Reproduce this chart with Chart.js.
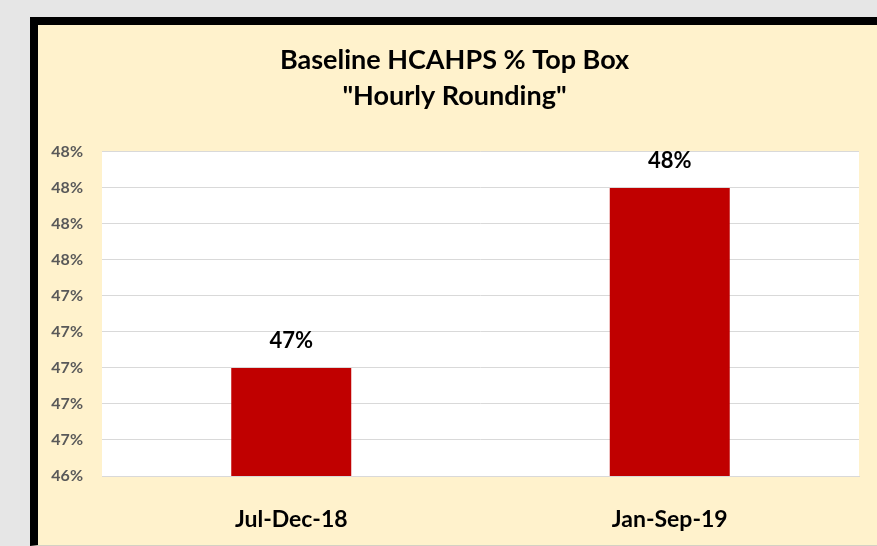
<!DOCTYPE html>
<html>
<head>
<meta charset="utf-8">
<title>Baseline HCAHPS % Top Box</title>
<script src="https://cdn.jsdelivr.net/npm/chart.js@4.4.1/dist/chart.umd.min.js"></script>
<style>
  html, body { margin: 0; padding: 0; background: #e6e6e6; overflow: hidden; }
  #frame {
    position: absolute; left: 30px; top: 17px;
    width: 839px; height: 520px;
    border-left: 8px solid #000; border-top: 8px solid #000;
    border-bottom: 1px solid #d4d0c4;
    background: #fff2cc;
  }
  #frame canvas { display: block; }
</style>
</head>
<body>
<div id="frame"><canvas id="roundingChart" width="839" height="520"></canvas></div>
<script>
// Zeitraeume und % Top Box Werte
const categories = ['Jul-Dec-18', 'Jan-Sep-19'];
const topBoxPct = [47.0, 48.0];
// Achsenteilung der y-Achse (Beschriftung wird auf ganze Prozent gerundet)
const yTickValues = [46.4, 46.6, 46.8, 47.0, 47.2, 47.4, 47.6, 47.8, 48.0, 48.2];
const titleLines = ['Baseline HCAHPS % Top Box', '"Hourly Rounding"'];

const FONT = "Lato, 'Open Sans', sans-serif";
const fmtPct = v => Math.round(v) + '%';

// weisser Hintergrund nur im Plotbereich
const plotBackground = {
    id: 'plotBackground',
    beforeDraw(chart) {
        const a = chart.chartArea;
        const ctx = chart.ctx;
        ctx.save();
        ctx.fillStyle = '#ffffff';
        ctx.fillRect(a.left, a.top, a.right - a.left, a.bottom - a.top);
        ctx.restore();
    }
};

// Wertebeschriftung ueber den Balken
const barValues = {
    id: 'barValues',
    afterDatasetsDraw(chart) {
        const ctx = chart.ctx;
        const meta = chart.getDatasetMeta(0);
        ctx.save();
        ctx.font = "bold 22px " + FONT;
        ctx.fillStyle = '#000000';
        ctx.textAlign = 'center';
        ctx.textBaseline = 'middle';
        meta.data.forEach((bar, i) => {
            ctx.fillText(fmtPct(chart.data.datasets[0].data[i]), bar.x, bar.y - 27);
        });
        ctx.restore();
    }
};

const ctx = document.getElementById('roundingChart');
const roundingChart = new Chart(ctx, {
    type: 'bar',
    data: {
        labels: categories,
        datasets: [{
            data: topBoxPct,
            backgroundColor: '#c00000',
            borderWidth: 0,
            barPercentage: 0.317,
            categoryPercentage: 1.0
        }]
    },
    options: {
        responsive: false,
        animation: false,
        // links etwas Rand, damit der Titel weiter rechts sitzt
        layout: { padding: { left: 12, right: 18, top: 0, bottom: 0 } },
        plugins: {
            legend: { display: false },
            tooltip: { enabled: false },
            title: {
                display: true,
                text: titleLines,
                color: '#000000',
                font: { family: FONT, size: 27, weight: 'bold', lineHeight: 1.333 },
                padding: { top: 17, bottom: 38 }
            }
        },
        scales: {
            x: {
                grid: { display: false, drawTicks: false },
                border: { color: '#d9d9d9', width: 1 },
                ticks: {
                    color: '#000000',
                    font: { family: FONT, size: 23, weight: 'bold' },
                    padding: 30
                },
                afterFit(scale) { scale.height = 69; }
            },
            y: {
                min: yTickValues[0],
                max: yTickValues[yTickValues.length - 1],
                afterBuildTicks(scale) {
                    scale.ticks = yTickValues.map(v => ({ value: v }));
                },
                grid: { color: '#d9d9d9', drawTicks: false },
                border: { display: false },
                ticks: {
                    color: '#595959',
                    font: { family: FONT, size: 16, weight: 'bold' },
                    padding: 19,
                    callback: v => fmtPct(v)
                },
                afterFit(scale) { scale.width = 52; }
            }
        }
    },
    plugins: [plotBackground, barValues]
});
</script>
</body>
</html>
